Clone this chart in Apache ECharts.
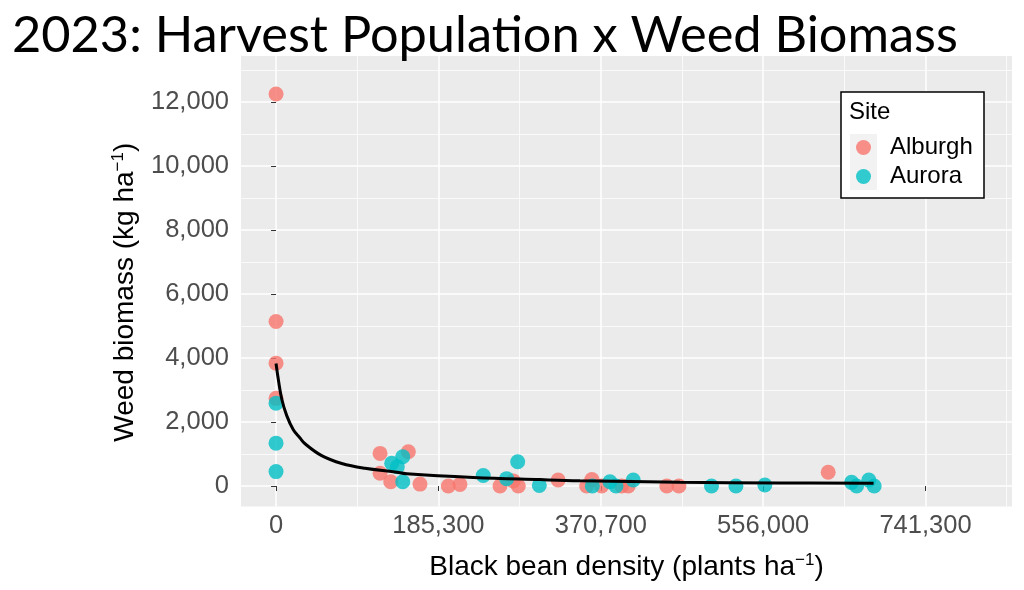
<!DOCTYPE html>
<html>
<head>
<meta charset="utf-8">
<script src="https://cdn.jsdelivr.net/npm/echarts@6/dist/echarts.min.js"></script>
<style>
html,body{margin:0;padding:0;background:#fff;}
#chart{width:1024px;height:590px;}
</style>
</head>
<body>
<div id="chart"></div>
<script>
// ---- data ----
const titleText = '2023: Harvest Population x Weed Biomass';
const xTickValues = [0, 185325, 370650, 555975, 741300];
const xTickLabels = ['0', '185,300', '370,700', '556,000', '741,300'];
const yTickValues = [0, 2000, 4000, 6000, 8000, 10000, 12000];
const yTickLabels = ['0', '2,000', '4,000', '6,000', '8,000', '10,000', '12,000'];
const xMinorValues = [92662.5, 277987.5, 463312.5, 648637.5, 833962.5];
const yMinorValues = [1000, 3000, 5000, 7000, 9000, 11000, 13000];

const alburgh = [
  [0, 12250], [0, 5140], [0, 3840], [0, 2740],
  [118700, 1020], [118700, 400], [130900, 135], [151000, 1070],
  [164300, 60], [196600, 0], [209900, 50],
  [255600, 0], [270800, 160], [276500, 0],
  [322000, 190], [360500, 200], [354500, 0], [371600, 0],
  [394400, 0], [402000, 0], [446000, 0], [459800, 0],
  [630200, 430]
];
const aurora = [
  [0, 2590], [0, 1340], [0, 450],
  [132000, 710], [144600, 915], [138400, 600], [144600, 135],
  [236500, 330], [263200, 230], [275800, 760], [300500, 20],
  [361000, 0], [381100, 135], [388000, 0], [407700, 190],
  [497000, 0], [524900, 0], [557900, 30],
  [656900, 115], [662600, 0], [676600, 185], [682700, 0]
];
const fitCurve = [
  [0, 3830], [2700, 3310], [6500, 2720], [12200, 2200], [19700, 1760],
  [27400, 1500], [33100, 1320], [52100, 950], [75000, 705], [101500, 555],
  [135800, 440], [149100, 385], [225000, 270], [301000, 200], [347000, 165],
  [461000, 120], [575000, 95], [682000, 85]
];

// ---- chart ----
const chart = echarts.init(document.getElementById('chart'), null, {renderer: 'canvas'});
const AX = 'Liberation Sans, Arial, sans-serif';

chart.setOption({
  backgroundColor: '#ffffff',
  animation: false,
  title: {
    text: titleText,
    left: 12, top: 10, padding: 0,
    textStyle: {fontFamily: 'Lato', fontWeight: 'normal', fontSize: 50.5, color: '#000'}
  },
  grid: {left: 241, right: 12, top: 56, bottom: 83.5, show: true, backgroundColor: '#EBEBEB', borderWidth: 0},
  xAxis: {
    type: 'value', min: -40000, max: 840000,
    name: '{a|Black bean density (plants ha}{s|−1}{a|)}',
    nameLocation: 'middle', nameGap: 45,
    nameTextStyle: {
      rich: {
        a: {fontFamily: AX, fontSize: 28, color: '#000', lineHeight: 31},
        s: {fontFamily: AX, fontSize: 17, color: '#000', verticalAlign: 'top', lineHeight: 31}
      }
    },
    axisLine: {show: false},
    axisTick: {show: true, length: 5, lineStyle: {color: '#333', width: 1}, customValues: xTickValues},
    axisLabel: {
      customValues: xTickValues, margin: 6,
      fontFamily: AX, fontSize: 25.5, color: '#4D4D4D',
      formatter: function (v) { const i = xTickValues.indexOf(v); return i >= 0 ? xTickLabels[i] : ''; }
    },
    splitLine: {show: true, lineStyle: {color: '#fff', width: 1.5}},
    minorSplitLine: {show: false}
  },
  yAxis: {
    type: 'value', min: -640, max: 13437,
    name: '{a|Weed biomass (kg ha}{s|−1}{a|)}',
    nameLocation: 'middle', nameGap: 100, nameRotate: 90,
    nameTextStyle: {
      padding: [0, 22, 0, 0],
      rich: {
        a: {fontFamily: AX, fontSize: 28, color: '#000', lineHeight: 31},
        s: {fontFamily: AX, fontSize: 17, color: '#000', verticalAlign: 'top', lineHeight: 31}
      }
    },
    axisLine: {show: false},
    axisTick: {show: true, length: 5, lineStyle: {color: '#333', width: 1}, customValues: yTickValues},
    axisLabel: {
      customValues: yTickValues, margin: 12,
      fontFamily: AX, fontSize: 25.5, color: '#4D4D4D',
      formatter: function (v) { const i = yTickValues.indexOf(v); return i >= 0 ? yTickLabels[i] : ''; }
    },
    splitLine: {show: true, lineStyle: {color: '#fff', width: 1.5}},
    minorSplitLine: {show: false}
  },
  legend: {
    show: true, orient: 'vertical', left: 856, top: 135.5, padding: 0,
    itemWidth: 15, itemHeight: 15, itemGap: 5, icon: 'circle',
    data: ['Alburgh', 'Aurora'],
    textStyle: {fontFamily: AX, fontSize: 24, color: '#000', padding: [0, 0, 0, 14]},
    z: 4
  },
  graphic: [
    {type: 'rect', z: 3, shape: {x: 841, y: 92, width: 143, height: 106},
     style: {fill: '#fff', stroke: '#000', lineWidth: 1.5}},
    {type: 'rect', z: 3, shape: {x: 850, y: 134, width: 27, height: 56},
     style: {fill: '#F2F2F2'}},
    {type: 'text', z: 3, x: 849, y: 112,
     style: {text: 'Site', font: '24px Liberation Sans', fill: '#000', verticalAlign: 'middle'}}
  ],
  series: [
    {
      name: 'minor', type: 'scatter', data: [], silent: true, z: 1,
      markLine: {
        z: 1, silent: true, symbol: 'none', animation: false,
        label: {show: false},
        lineStyle: {color: '#fff', width: 0.75, type: 'solid', opacity: 1},
        emphasis: {disabled: true},
        data: xMinorValues.map(v => ({xAxis: v})).concat(yMinorValues.map(v => ({yAxis: v})))
      }
    },
    {
      name: 'Alburgh', type: 'scatter', data: alburgh, symbolSize: 15, z: 2,
      itemStyle: {color: '#F8766D', opacity: 0.8}
    },
    {
      name: 'Aurora', type: 'scatter', data: aurora, symbolSize: 15, z: 2,
      itemStyle: {color: '#00BFC4', opacity: 0.8}
    },
    {
      name: 'fit', type: 'line', data: fitCurve, smooth: 0.4, showSymbol: false, symbol: 'none', z: 3,
      lineStyle: {color: '#000', width: 3}, silent: true
    }
  ]
});
</script>
</body>
</html>
